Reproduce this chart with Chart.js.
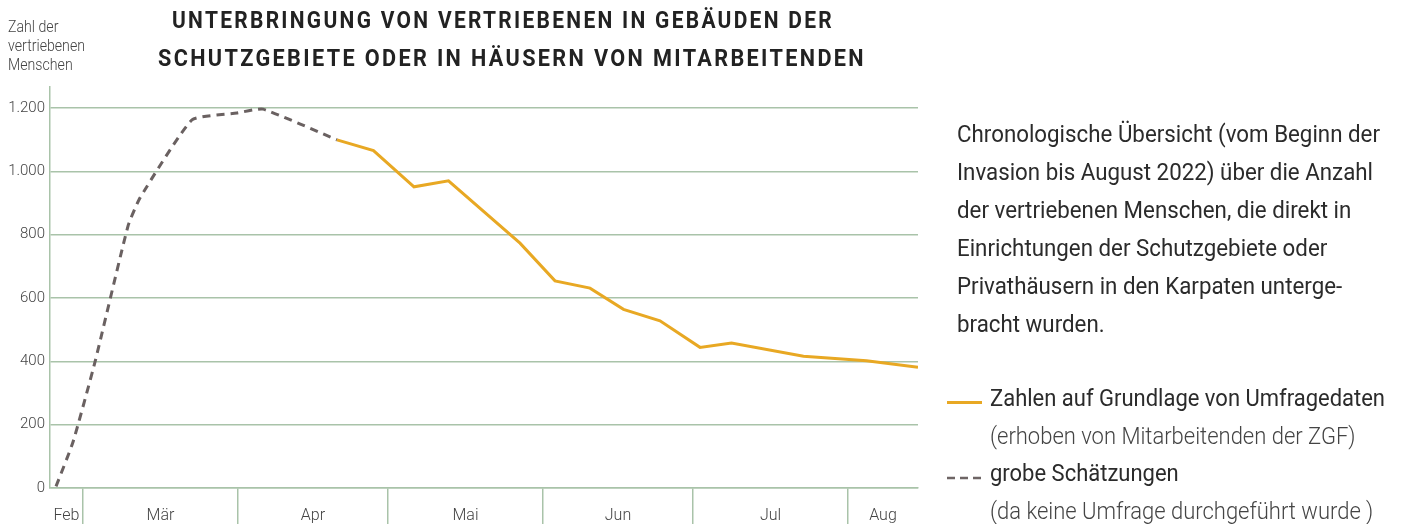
<!DOCTYPE html>
<html lang="de">
<head>
<meta charset="utf-8">
<script src="https://cdn.jsdelivr.net/npm/chart.js@4/dist/chart.umd.min.js"></script>
<style>
  html, body { margin: 0; padding: 0; background: #fff; }
  body { width: 1409px; height: 524px; position: relative; overflow: hidden; font-family: Roboto, "Noto Sans", sans-serif; }
  #c { position: absolute; left: 0; top: 0; }
  .fit { position: absolute; white-space: nowrap; transform-origin: 0 0; }
  .fit span { display: block; }
  #ytitle { left: 8px; top: 17px; font-size: 17px; line-height: 19px; font-weight: 300; color: #444; }
  .tline { font-size: 23px; line-height: 38px; font-weight: 700; letter-spacing: 2.5px; color: #222; }
  #desc { left: 957px; top: 116px; font-size: 23px; line-height: 38px; font-weight: 400; color: #2b2b2b; }
  #legend { left: 990px; top: 380px; font-size: 23px; line-height: 37.5px; color: #2b2b2b; }
  #legend .sub { font-weight: 300; color: #444; }
  .sw { position: absolute; }
</style>
</head>
<body>
<canvas id="c" width="1409" height="524"></canvas>

<div id="ytitle" class="fit" data-w="77"><span>Zahl der</span><span>vertriebenen</span><span>Menschen</span></div>
<div id="t1" class="fit tline" data-w="662" style="left:172px; top:2px;">UNTERBRINGUNG VON VERTRIEBENEN IN GEBÄUDEN DER</div>
<div id="t2" class="fit tline" data-w="708" style="left:158px; top:40px;">SCHUTZGEBIETE ODER IN HÄUSERN VON MITARBEITENDEN</div>

<div id="desc" class="fit" data-w="423">
  <span>Chronologische Übersicht (vom Beginn der</span>
  <span>Invasion bis August 2022) über die Anzahl</span>
  <span>der vertriebenen Menschen, die direkt in</span>
  <span>Einrichtungen der Schutzgebiete oder</span>
  <span>Privathäusern in den Karpaten unterge-</span>
  <span>bracht wurden.</span>
</div>

<div class="sw" style="left:947px; top:401px; width:35px; height:2.5px; background:#e8a823;"></div>
<svg class="sw" style="left:947px; top:475px;" width="36" height="6"><line x1="0" y1="3" x2="36" y2="3" stroke="#6e6565" stroke-width="2.5" stroke-dasharray="8,5"/></svg>

<div id="legend" class="fit" data-w="395">
  <span>Zahlen auf Grundlage von Umfragedaten</span>
  <span class="sub">(erhoben von Mitarbeitenden der ZGF)</span>
  <span>grobe Schätzungen</span>
  <span class="sub">(da keine Umfrage durchgeführt wurde )</span>
</div>

<script>
// ---- data (x = day of year 2022) ----
const monthLabels = ['Feb', 'Mär', 'Apr', 'Mai', 'Jun', 'Jul', 'Aug'];
const monthStartDays = [32, 60, 91, 121, 152, 182, 213];
const axisStartDay = 53.4;
const axisEndDay = 227;
const yTickValues = [0, 200, 400, 600, 800, 1000, 1200];
const yAxisMax = 1266;

// rough estimates (dashed)
const estimateDays   = [54.6, 58.0, 62.4, 69.0, 71.4, 81.8, 90.8, 96.0, 110.8];
const estimateValues = [5, 145, 398, 827, 916, 1162, 1184, 1196, 1099];

// survey-based figures (solid)
const surveyDays   = [110.8, 118.1, 126.2, 133.1, 147.4, 154.4, 161.4, 168.1, 175.4, 183.4, 189.7, 204.1, 216.7, 227];
const surveyValues = [1099, 1065, 951, 970, 773, 654, 631, 564, 528, 444, 458, 416, 402, 381];

// ---- styles ----
const GRID = '#a9c3a9';
const ORANGE = '#e8a823';
const GREY = '#6a6161';

// month separator ticks and month label ticks
const boundaryTicks = monthStartDays.filter(d => d > axisStartDay && d < axisEndDay);
const labelTicks = {};
monthLabels.forEach((lab, i) => {
  const a = Math.max(monthStartDays[i], axisStartDay);
  const b = Math.min(i + 1 < monthStartDays.length ? monthStartDays[i + 1] : axisEndDay, axisEndDay);
  labelTicks[((a + b) / 2).toFixed(3)] = lab;
});
const labelTickValues = Object.keys(labelTicks).map(Number);
const xTickValues = boundaryTicks.concat(labelTickValues).sort((a, b) => a - b);
const isBoundary = v => boundaryTicks.some(b => Math.abs(b - v) < 1e-6);

const toXY = (xs, ys) => xs.map((x, i) => ({ x, y: ys[i] }));

new Chart(document.getElementById('c'), {
  type: 'line',
  data: {
    datasets: [
      {
        label: 'Zahlen auf Grundlage von Umfragedaten',
        data: toXY(surveyDays, surveyValues),
        borderColor: ORANGE,
        borderWidth: 3,
        pointRadius: 0,
        tension: 0,
        fill: false
      },
      {
        label: 'grobe Schätzungen',
        data: toXY(estimateDays, estimateValues),
        borderColor: GREY,
        borderWidth: 3,
        borderDash: [8, 6],
        pointRadius: 0,
        tension: 0.15,
        fill: false
      }
    ]
  },
  options: {
    responsive: false,
    animation: false,
    layout: { padding: { top: 87, right: 491, left: 0, bottom: 0 } },
    plugins: { legend: { display: false }, tooltip: { enabled: false }, title: { display: false } },
    scales: {
      x: {
        type: 'linear',
        min: axisStartDay,
        max: axisEndDay,
        afterBuildTicks: axis => { axis.ticks = xTickValues.map(v => ({ value: v })); },
        afterFit: s => { s.height = 36; },
        ticks: {
          autoSkip: false,
          maxRotation: 0,
          minRotation: 0,
          padding: -18,
          color: '#444',
          font: { family: 'Roboto', size: 16, weight: '300' },
          callback: v => labelTicks[Number(v).toFixed(3)] || ''
        },
        grid: {
          drawOnChartArea: false,
          drawTicks: true,
          tickLength: 36,
          lineWidth: 1.5,
          color: ctx => (ctx.tick && isBoundary(ctx.tick.value)) ? GRID : 'rgba(0,0,0,0)',
          tickColor: ctx => (ctx.tick && isBoundary(ctx.tick.value)) ? GRID : 'rgba(0,0,0,0)'
        },
        border: { display: true, color: GRID, width: 1.5 }
      },
      y: {
        type: 'linear',
        min: 0,
        max: yAxisMax,
        afterBuildTicks: axis => { axis.ticks = yTickValues.map(v => ({ value: v })); },
        afterFit: s => { s.width = 50; },
        ticks: {
          padding: 5,
          color: '#444',
          font: { family: 'Roboto', size: 15, weight: '300' },
          callback: v => Number(v).toLocaleString('de-DE')
        },
        grid: { drawTicks: false, color: GRID, lineWidth: 1.5 },
        border: { display: true, color: GRID, width: 1.5 }
      }
    }
  }
});

// condense the HTML text blocks to the measured widths of the reference
document.querySelectorAll('.fit').forEach(el => {
  const w = el.getBoundingClientRect().width;
  const target = Number(el.dataset.w);
  if (w > 0 && target > 0) el.style.transform = 'scaleX(' + (target / w) + ')';
});
</script>
</body>
</html>
